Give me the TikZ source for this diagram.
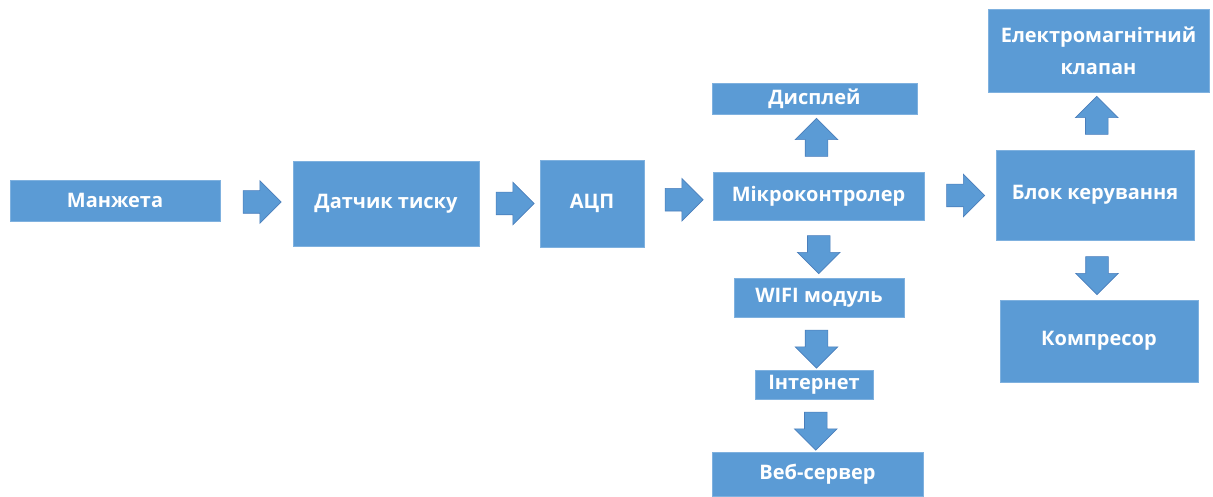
\documentclass[tikz,border=0pt]{standalone}
\usepackage{fontspec}
\setmainfont{Open Sans}
\usetikzlibrary{shapes.arrows}

\definecolor{boxblue}{HTML}{5B9BD5}
\definecolor{boxedge}{HTML}{7FB1DF}
\definecolor{arrowedge}{HTML}{4A7EBB}

\tikzset{
  blk/.style={rectangle, fill=boxblue, draw=boxedge, line width=0.8pt,
    text=white, font=\fontsize{20}{32}\selectfont\bfseries, align=center, inner sep=0pt},
  harrow/.style={single arrow, fill=boxblue, draw=arrowedge, line width=0.6pt,
    inner sep=0pt, inner ysep=11pt, minimum height=38pt,
    single arrow head extend=10pt}
}

\begin{document}
\begin{tikzpicture}[x=1pt,y=-1pt]
\useasboundingbox (0,0) rectangle (1213,497);
% blocks
\node [blk, minimum width=210pt, minimum height=41pt] (man) at (115,200.5) {Манжета};
\node [blk, minimum width=186pt, minimum height=85pt] (dat) at (386,203.5) {Датчик тиску};
\node [blk, minimum width=104pt, minimum height=87pt] (adc) at (592,203.5) {АЦП};
\node [blk, minimum width=211pt, minimum height=48pt] (mcu) at (818.5,196) {Мікроконтролер};
\node [blk, minimum width=205pt, minimum height=31pt] (disp) at (814.5,98.5) {Дисплей};
\node [blk, minimum width=170pt, minimum height=39pt] (wifi) at (819,297.5) {WIFI модуль};
\node [blk, minimum width=118pt, minimum height=29pt] (inet) at (814,384.5) {Інтернет};
\node [blk, minimum width=211pt, minimum height=44pt] (web) at (817.5,474) {Веб-сервер};
\node [blk, minimum width=221pt, minimum height=83pt] (valve) at (1098.5,50.5) {Електромагнітний\\клапан};
\node [blk, minimum width=198pt, minimum height=90pt] (ctrl) at (1095,195) {Блок керування};
\node [blk, minimum width=198pt, minimum height=82pt] (comp) at (1099,341) {Компресор};
% block arrows
\path (man.east) -- node [harrow] {} (dat.west);
\path (dat.east) -- node [harrow] {} (adc.west);
\path (adc.east) -- node [harrow] {} (mcu.west);
\path (mcu.east) -- node [harrow] {} (ctrl.west);
\path (mcu.north) -- node [harrow, rotate=90] {} (disp.south);
\path (mcu.south) -- node [harrow, rotate=-90] {} (wifi.north);
\path (wifi.south) -- node [harrow, rotate=-90] {} (inet.north);
\path (inet.south) -- node [harrow, rotate=-90] {} (web.north);
\path (ctrl.north) -- node [harrow, rotate=90] {} (valve.south);
\path (ctrl.south) -- node [harrow, rotate=-90] {} (comp.north);
\end{tikzpicture}
\end{document}
